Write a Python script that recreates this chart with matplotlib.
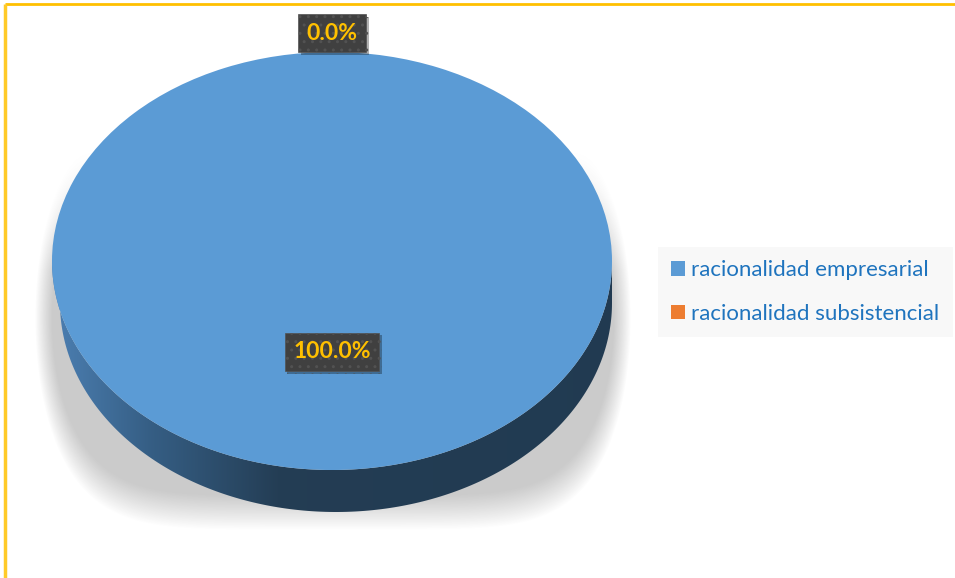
import numpy as np
import matplotlib.pyplot as plt
import matplotlib.patheffects as pe
from matplotlib.transforms import Affine2D
from matplotlib.patches import Polygon

# datos del grafico
labels = ["racionalidad empresarial", "racionalidad subsistencial"]
values = [100, 0]
colors = ["#5B9BD5", "#ED7D31"]
label_dist = [0.435, 1.09]

W, H = 955, 578
cx, cy, rx, ry = 332, 261, 280, 209      # cara superior
bx, by, brx, bry = 336, 303, 276, 209    # borde inferior del disco

fig = plt.figure(figsize=(W / 100, H / 100), dpi=100)
ax = fig.add_axes([0, 0, 1, 1])

# pastel (cara superior) escalado a elipse
wedges, _ = ax.pie(values, colors=colors, startangle=90, counterclock=False,
                   frame=True, wedgeprops=dict(linewidth=0))
ax.set_xlim(0, W)
ax.set_ylim(H, 0)
ax.set_aspect("auto")
ax.axis("off")
top_tr = Affine2D().scale(rx, -ry).translate(cx, cy) + ax.transData
for w in wedges:
    w.set_transform(top_tr)
    w.set_zorder(4)

# sombra difusa
yy, xx = np.mgrid[0:H, 0:W] + 0.5
d = (np.abs(xx - 333) / 298) ** 6 + ((yy - 318) / 212) ** 2
a = np.clip((1 - d) / 0.3, 0, 1)
a *= np.clip((yy - 150) / 120, 0, 1)
sh = np.zeros((H, W, 4))
sh[..., :3] = 0.55
sh[..., 3] = 0.45 * a
ax.imshow(sh, extent=(0, W, H, 0), zorder=1, interpolation="bilinear")

# lateral del disco con degradado
t = np.linspace(0, np.pi, 200)
top_arc = np.column_stack([cx + rx * np.cos(t), cy + ry * np.sin(t)])
bot_arc = np.column_stack([bx + brx * np.cos(t[::-1]), by + bry * np.sin(t[::-1])])
side = Polygon(np.vstack([top_arc, bot_arc]), closed=True, fc="none", ec="none")
ax.add_patch(side)
xs = np.arange(W) + 0.5
stops_x = [52, 150, 280, 620]
stops_c = np.array([[0.30, 0.50, 0.70], [0.21, 0.37, 0.52],
                    [0.14, 0.24, 0.33], [0.13, 0.23, 0.32]])
grad = np.column_stack([np.interp(xs, stops_x, stops_c[:, k]) for k in range(3)])
img = ax.imshow(np.tile(grad[None, :, :], (H, 1, 1)), extent=(0, W, H, 0),
                zorder=2, interpolation="bilinear")
img.set_clip_path(side)

# etiquetas de porcentaje
total = sum(values)
cum = 0
for v, dist in zip(values, label_dist):
    frac = v / total
    ang = np.deg2rad(90 - 360 * (cum + frac / 2))
    cum += frac
    x = cx + rx * dist * np.cos(ang)
    y = cy - ry * dist * np.sin(ang)
    txt = ax.text(x, y, f"{frac * 100:.1f}%", ha="center", va="center",
                  fontsize=16.5, fontweight="bold", color="#FFC000", family="Lato",
                  bbox=dict(boxstyle="square,pad=0.38", fc="#404040", ec="#525252",
                            lw=0.5, hatch=".."), zorder=6)
    txt.get_bbox_patch().set_path_effects(
        [pe.SimplePatchShadow(offset=(2, -2), shadow_rgbFace="black", alpha=0.3),
         pe.Normal()])

# leyenda
leg = ax.legend(wedges, labels, loc="center left",
                bbox_to_anchor=(658 / W, 1 - 292 / H),
                frameon=True, facecolor="#F8F8F8", edgecolor="none", fancybox=False,
                framealpha=1, prop={"family": "Lato", "size": 16},
                handlelength=0.6, handleheight=0.6, handletextpad=0.3,
                labelspacing=1.05, borderpad=0.6, borderaxespad=0,
                labelcolor="#1F74BE")

# borde amarillo
ax.plot([5, W], [4, 4], color="#FFC000", lw=2, solid_capstyle="butt", zorder=7)
ax.plot([5, 5], [4, H], color="#FFCA28", lw=2.5, solid_capstyle="butt", zorder=7)

fig.savefig("out.png", dpi=100)
